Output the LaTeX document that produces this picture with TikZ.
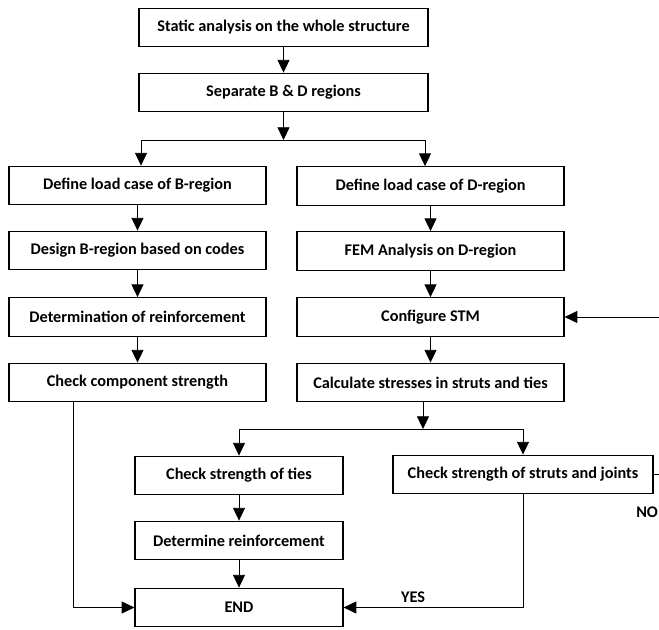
\documentclass[tikz,border=0pt]{standalone}
\usepackage{fontspec}
\setmainfont{Carlito}
\usetikzlibrary{arrows.meta,calc}

\tikzset{
  stepbox/.style={draw, line width=0.9pt, minimum height=29pt, inner sep=0pt,
    font=\bfseries\fontsize{12.2}{14}\selectfont},
  arr/.style={-{Triangle[width=9pt,length=9.5pt]}, line width=0.6pt},
  lnk/.style={line width=0.6pt},
  lbl/.style={inner sep=0pt, font=\bfseries\fontsize{12.2}{14}\selectfont},
}

\begin{document}
\begin{tikzpicture}[x=0.75pt,y=0.75pt,yscale=-1,xscale=1]
\useasboundingbox (0,0) rectangle (659,630);

% top part
\node[stepbox, minimum width=216.75pt] (static) at (283.5,27.5) {Static analysis on the whole structure};
\node[stepbox, minimum width=216.75pt] (separate) at (283.5,92.5) {Separate B \& D regions};

% B-region column
\node[stepbox, minimum width=192.75pt] (loadB) at (137.5,185.5) {Define load case of B-region};
\node[stepbox, minimum width=192.75pt] (designB) at (137.5,250.5) {Design B-region based on codes};
\node[stepbox, minimum width=192.75pt] (reinfB) at (137.5,317) {Determination of reinforcement};
\node[stepbox, minimum width=192.75pt] (checkB) at (137.5,382.5) {Check component strength};

% D-region column
\node[stepbox, minimum width=200.25pt] (loadD) at (430.5,186) {Define load case of D-region};
\node[stepbox, minimum width=200.25pt] (femD) at (430.5,251) {FEM Analysis on D-region};
\node[stepbox, minimum width=200.25pt] (stm) at (430.5,317) {Configure STM};
\node[stepbox, minimum width=200.25pt] (stress) at (430.5,382.5) {Calculate stresses in struts and ties};

% checks
\node[stepbox, minimum width=156pt] (ties) at (239,475.5) {Check strength of ties};
\node[stepbox, minimum width=156pt] (reinfD) at (239,540.5) {Determine reinforcement};
\node[stepbox, minimum width=156pt] (finish) at (239,607.5) {END};
\node[stepbox, minimum width=195pt] (struts) at (523,474.5) {Check strength of struts and joints};

% labels
\node[lbl] (yes) at (413,597) {YES};
\node[lbl, anchor=west] (no) at (636,512) {NO};

% split points
\coordinate (splitA) at (283.5,140);
\coordinate (splitAl) at (141,140);
\coordinate (splitAr) at (425,140);
\coordinate (splitB) at (423,429);
\coordinate (splitBl) at (239,429);
\coordinate (splitBr) at (523,429);
\coordinate (loopin) at (659,317);
\coordinate (loopout) at (659,474.5);

\draw[arr] (static) -- (separate);
\draw[arr] (separate) -- (splitA);
\draw[lnk] (splitAl) -- (splitAr);
\draw[arr] (splitAl) -- (splitAl |- loadB.north);
\draw[arr] (splitAr) -- (splitAr |- loadD.north);

\draw[arr] (loadB) -- (designB);
\draw[arr] (designB) -- (reinfB);
\draw[arr] (reinfB) -- (checkB);

\draw[arr] (loadD) -- (femD);
\draw[arr] (femD) -- (stm);
\draw[arr] (stm) -- (stress);
\draw[arr] (loopin |- stm.east) -- (stm.east);

\draw[arr] (stress.south -| splitB) -- (splitB);
\draw[lnk] (splitBl) -- (splitBr);
\draw[arr] (splitBl) -- (ties);
\draw[arr] (splitBr) -- (struts);

\draw[arr] (ties) -- (reinfD);
\draw[arr] (reinfD) -- (finish);

\draw[arr] ($(checkB.south west)!0.25!(checkB.south east)$) |- (finish.west);
\draw[arr] (struts.south) |- (finish.east);
\draw[lnk] (struts.east) -- (loopout |- struts.east);

\end{tikzpicture}
\end{document}
